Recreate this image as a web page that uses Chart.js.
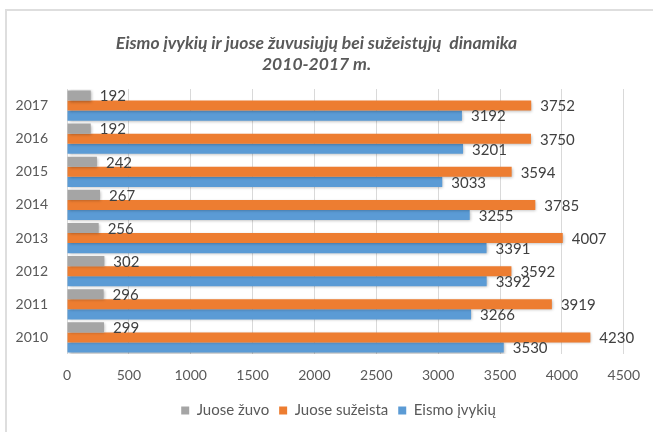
<!DOCTYPE html>
<html>
<head>
<meta charset="utf-8">
<script src="https://cdn.jsdelivr.net/npm/chart.js@4"></script>
<style>
  html, body { margin: 0; padding: 0; background: #fff; }
  #wrap { position: relative; width: 653px; height: 432px; }
  #frame { position: absolute; left: 5px; top: 9px; right: 0; bottom: 0;
           border-top: 2px solid #dedede; border-left: 2px solid #dedede; }
  canvas { position: absolute; left: 0; top: 0; }
</style>
</head>
<body>
<div id="wrap">
  <div id="frame"></div>
  <canvas id="bar-chart" width="653" height="432"></canvas>
</div>
<script>
const years = ["2010", "2011", "2012", "2013", "2014", "2015", "2016", "2017"];
const zuvo = [299, 296, 302, 256, 267, 242, 192, 192];
const suzeista = [4230, 3919, 3592, 4007, 3785, 3594, 3750, 3752];
const ivykiai = [3530, 3266, 3392, 3391, 3255, 3033, 3201, 3192];
const xTicks = [0, 500, 1000, 1500, 2000, 2500, 3000, 3500, 4000, 4500];

const FONT = "Lato, 'Open Sans', sans-serif";
const TXT = "#595959";

// bar shadow + value labels (no datalabels plugin offline)
const barExtras = {
  id: "barExtras",
  afterLayout(chart) {
    // legend sits a bit right of centre in the original
    chart.legend.left += 22;
    chart.legend.right += 22;
  },
  beforeDatasetsDraw(chart) {
    const ctx = chart.ctx;
    ctx.save();
    ctx.shadowColor = "rgba(0,0,0,0.3)";
    ctx.shadowBlur = 3;
    ctx.shadowOffsetX = 1;
    ctx.shadowOffsetY = 1;
  },
  afterDatasetsDraw(chart) {
    const ctx = chart.ctx;
    ctx.restore();
    ctx.save();
    ctx.font = "15px " + FONT;
    ctx.fillStyle = "#404040";
    ctx.textAlign = "left";
    ctx.textBaseline = "middle";
    chart.data.datasets.forEach((ds, i) => {
      chart.getDatasetMeta(i).data.forEach((bar, j) => {
        ctx.fillText(ds.data[j], bar.x + 9, bar.y + 1);
      });
    });
    ctx.restore();
  }
};

new Chart(document.getElementById("bar-chart"), {
  type: "bar",
  data: {
    labels: years,
    datasets: [
      { label: "Juose žuvo", data: zuvo, backgroundColor: "#a5a5a5" },
      { label: "Juose sužeista", data: suzeista, backgroundColor: "#ed7d31" },
      { label: "Eismo įvykių", data: ivykiai, backgroundColor: "#5b9bd5" }
    ]
  },
  plugins: [barExtras],
  options: {
    indexAxis: "y",
    responsive: false,
    animation: false,
    categoryPercentage: 0.91,
    barPercentage: 1,
    layout: { padding: { top: 33, right: 28, bottom: 4, left: 8 } },
    scales: {
      x: {
        min: 0,
        max: 4500,
        afterBuildTicks: (s) => { s.ticks = xTicks.map(v => ({ value: v })); },
        afterFit: (s) => { s.height = 39; },
        grid: { color: "#d9d9d9", drawTicks: false },
        border: { display: false },
        ticks: { color: TXT, font: { family: FONT, size: 14 }, padding: 13,
                 callback: (v) => String(v) }
      },
      y: {
        reverse: true,
        grid: { display: false },
        border: { display: false },
        ticks: { color: TXT, font: { family: FONT, size: 14 }, padding: 11 },
        afterFit: (s) => { s.width = 59; }
      }
    },
    plugins: {
      title: {
        display: true,
        text: ["Eismo įvykių ir juose žuvusiųjų bei sužeistųjų  dinamika", "2010-2017 m."],
        color: TXT,
        font: { family: FONT, size: 17.5, weight: "bold", style: "italic", lineHeight: 1.2 },
        padding: { top: 0, bottom: 14 }
      },
      legend: {
        position: "bottom",
        labels: {
          color: TXT,
          font: { family: FONT, size: 15 },
          usePointStyle: true,
          pointStyle: "rect",
          boxWidth: 8,
          boxHeight: 8,
          padding: 10
        }
      },
      tooltip: { enabled: false }
    }
  }
});
</script>
</body>
</html>
